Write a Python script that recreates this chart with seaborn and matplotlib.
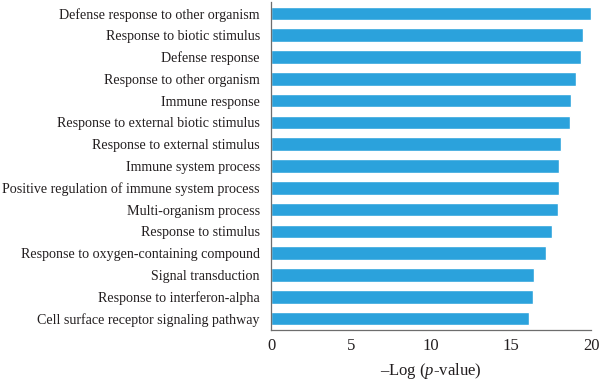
import matplotlib
matplotlib.use("Agg")
import matplotlib.pyplot as plt
import seaborn as sns
import pandas as pd

terms = [
    "Defense response to other organism",
    "Response to biotic stimulus",
    "Defense response",
    "Response to other organism",
    "Immune response",
    "Response to external biotic stimulus",
    "Response to external stimulus",
    "Immune system process",
    "Positive regulation of immune system process",
    "Multi-organism process",
    "Response to stimulus",
    "Response to oxygen-containing compound",
    "Signal transduction",
    "Response to interferon-alpha",
    "Cell surface receptor signaling pathway",
]
neg_log_p = [20.0, 19.5, 19.35, 19.08, 18.73, 18.7, 18.12, 18.0, 18.0, 17.96,
             17.58, 17.19, 16.42, 16.4, 16.13]
x_ticks = [0, 5, 10, 15, 20]

df = pd.DataFrame({"term": terms, "value": neg_log_p})

sns.set_style("white")
plt.rcParams["font.family"] = ["Liberation Serif", "DejaVu Serif"]
plt.rcParams["mathtext.fontset"] = "custom"
plt.rcParams["mathtext.rm"] = "Liberation Serif"
plt.rcParams["mathtext.it"] = "Liberation Serif:italic"

fig = plt.figure(figsize=(6.0, 3.82), dpi=100)
ax = fig.add_axes([271/600, 1 - 329.5/382, 320/600, 327/382])

sns.barplot(data=df, x="value", y="term", color="#2ba2dc", saturation=1,
            width=0.62, ax=ax, orient="h")

ax.set_xlim(0, 20)
ax.set_ylim(len(terms) - 0.5, -0.5)
ax.set_xticks(x_ticks)
ax.set_xticklabels([str(t) for t in x_ticks], fontsize=12, color="#231f20")
ax.tick_params(axis="x", direction="out", length=4, width=0.8, color="#6d6d6d", pad=2)
ax.tick_params(axis="y", length=0, pad=8, labelsize=10.1, labelcolor="#231f20")
ax.set_ylabel("")
ax.set_xlabel(r"–Log ($\mathit{p}$-value)", fontsize=12, color="#231f20", labelpad=5)

for s in ["top", "right"]:
    ax.spines[s].set_visible(False)
for s in ["left", "bottom"]:
    ax.spines[s].set_color("#6d6d6d")
    ax.spines[s].set_linewidth(0.9)

fig.savefig("out.png", dpi=100)
